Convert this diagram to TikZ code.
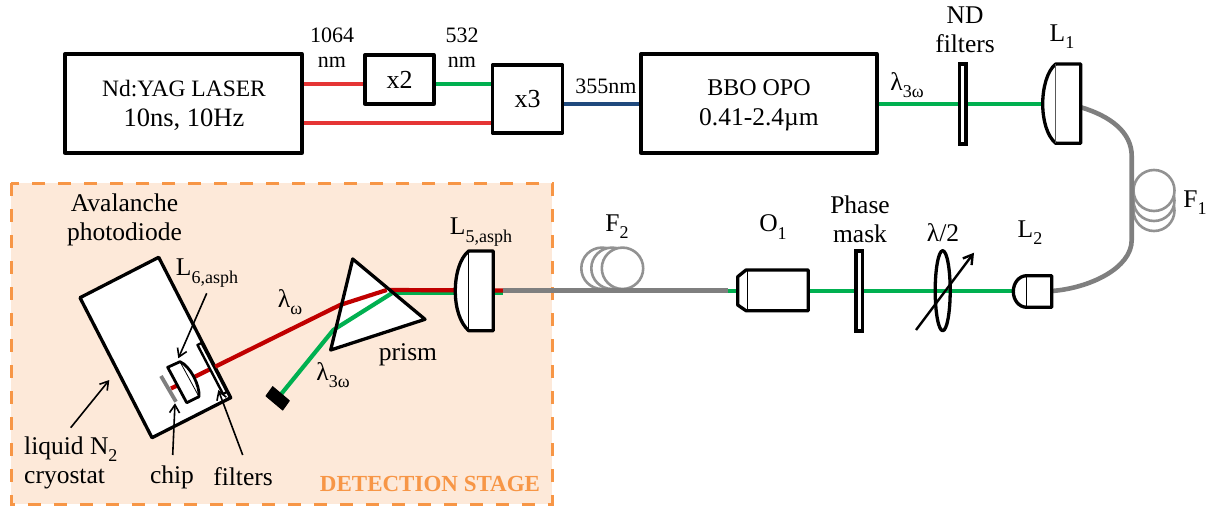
\documentclass[tikz,border=0pt]{standalone}
\usepackage{fontspec}
\setmainfont{Liberation Serif}
\usetikzlibrary{arrows.meta,calc}
\definecolor{cred}{HTML}{E53535}
\definecolor{dred}{HTML}{C00000}
\definecolor{cgreen}{HTML}{00B050}
\definecolor{cblue}{HTML}{1F497D}
\definecolor{cgrey}{HTML}{7F7F7F}
\definecolor{corange}{HTML}{F79646}
\definecolor{cpeach}{HTML}{FDE9D9}
\newcommand{\lsb}[1]{\raisebox{-0.28em}{\fontsize{18}{18}\selectfont #1}}
\newcommand{\fs}[1]{\fontsize{#1}{30}\selectfont}
\tikzset{
 box/.style={draw=black,line width=3.3pt,fill=white,line join=round,inner sep=0pt,align=center,font=\fontsize{26}{30}\selectfont},
 optic/.style={draw=black,line width=3.3pt,fill=white,line join=round},
 beam/.style={line width=4.2pt},
 fibre/.style={draw=cgrey,line width=4.4pt},
 loopc/.style={draw=cgrey!85,line width=2.6pt,fill=white},
 lab/.style={inner sep=0pt,align=center,font=\fontsize{25.5}{29}\selectfont},
 small/.style={inner sep=0pt,align=center,font=\fontsize{22}{25}\selectfont},
 thin line/.style={draw=black,line width=1pt},
 pointer/.style={draw=black,line width=1.6pt,-{Straight Barb[length=8pt,width=10pt]}},
}
\begin{document}
\begin{tikzpicture}[x=1pt,y=-1pt]
\useasboundingbox (0,0) rectangle (1210,506);
% detection stage
\draw[draw=corange,line width=3pt,fill=cpeach,dash pattern=on 13pt off 13pt] (11,183) rectangle (552,504);
% top row boxes
\node[box,minimum width=237pt,minimum height=99pt] (laser) at (183.5,103.5) {};
\node[lab,font=\fontsize{24}{30}\selectfont] (lasertxt) at (184,105) {{\fs{23.5}Nd:YAG LASER}\\{\fs{26.5}10ns, 10Hz}};
\node[box,minimum width=69pt,minimum height=49pt] (xtwo) at (399.5,79.5) {x2};
\node[box,minimum width=70pt,minimum height=68pt] (xthree) at (527.5,99) {x3};
\node[box,minimum width=236pt,minimum height=99pt] (bbo) at (759,103.5) {};
\node[lab,font=\fontsize{24}{30}\selectfont] (bbotxt) at (759,105) {{\fs{24}BBO OPO}\\{\fs{25.5}0.41-2.4µm}};
\draw[beam,cred] (laser.east |- 0,84.3) -- (xtwo.west |- 0,84.3);
\draw[beam,cgreen] (xtwo.east |- 0,84.3) -- (xthree.west |- 0,84.3);
\draw[beam,cred] (laser.east |- 0,123.3) -- (xthree.west |- 0,123.3);
\draw[beam,cblue] (xthree.east |- 0,104) -- (bbo.west |- 0,104);
\node[small] (l1064) at (332,47.5) {1064\\nm};
\node[small] (l532) at (462,47.5) {532\\nm};
\node[small] (l355) at (606,86) {355nm};
% top row optics
\coordinate (lonefront) at (1043,104);
\draw[beam,cgreen] (bbo.east |- lonefront) -- (lonefront);
\node[lab] (l3w) at (907,85) {λ\lsb{3ω}};
\node[draw=black,line width=3.3pt,fill=white,minimum width=6.5pt,minimum height=80pt,inner sep=0pt] (nd) at (962.7,104) {};
\node[lab] (ndtxt) at (965,30) {ND\\filters};
\node[lab] (lone) at (1062,37) {L\lsb{1}};
% fibre F1 path
\foreach \yy in {210.5,200.5,190.5}{\draw[loopc] (1154,\yy) circle (20.5);}
\coordinate (loneback) at (1081,107.3);
\coordinate (ltwoback) at (1052,291);
\draw[draw=cgrey,line width=4.6pt] (loneback) .. controls (1110,116) and (1131.7,132) .. (1131.7,156) -- (1131.7,240) .. controls (1131.7,268) and (1090,288) .. (ltwoback);
\path[optic] (1055.7,64) -- (1080.7,64) -- (1080.7,143.3) -- (1055.7,143.3) .. controls (1047,136) and (1042.7,120) .. (1042.7,104) .. controls (1042.7,88) and (1047,71) .. (1055.7,64) -- cycle;
\draw[draw=cgrey!70!black,line width=1.2pt] (1055.7,64) -- (1055.7,143.3);
\node[lab] (ftxt1) at (1195,203) {F\lsb{1}};
% lower row
\coordinate (fibA) at (503,290.5);
\coordinate (fibB) at (728,290.5);
\coordinate (ltwoF) at (1013.5,291);
\draw[beam,cgreen] (fibB |- ltwoF) -- (ltwoF);
\node[draw=black,line width=3.3pt,fill=white,minimum width=6.5pt,minimum height=80pt,inner sep=0pt] (pm) at (859.3,291) {};
\draw[optic,fill=none] (942.7,290.7) ellipse (7.5 and 40);
\coordinate (wpA) at (916,330);
\coordinate (wpB) at (974,252.7);
\draw[draw=black,line width=2.4pt,-{Straight Barb[length=9pt,width=11pt]}] (wpA) -- (wpB);
\path[optic] (746,270) -- (808.3,270) -- (808.3,310.7) -- (746,310.7) -- (737.7,305) -- (737.7,276.7) -- cycle;
\draw[thin line] (747.5,270) -- (747.5,310.7);
\path[optic] (1026.7,275.7) -- (1051.7,275.7) -- (1051.7,307.3) -- (1026.7,307.3) .. controls (1019,307.3) and (1013.3,300) .. (1013.3,291.5) .. controls (1013.3,283) and (1019,275.7) .. (1026.7,275.7) -- cycle;
\draw[thin line] (1026.7,275.7) -- (1026.7,307.3);
\node[lab] (oone) at (773,227) {O\lsb{1}};
\node[lab] (pmtxt) at (860,219) {Phase\\mask};
\node[lab] (wptxt) at (943,233) {λ/2};
\node[lab] (ltwo) at (1030,233) {L\lsb{2}};
% F2
\draw[line width=3pt,cgreen] (391.7,293.3) -- (fibA |- 0,293.3);
\draw[beam,dred] (386.7,290) -- (fibA);
\foreach \xx in {602,612,622.5}{\draw[loopc] (\xx,268.3) circle (20.7);}
\path[optic] (468.7,251) -- (493.3,251) -- (493.3,330.7) -- (468.7,330.7) .. controls (460,323) and (455.3,308) .. (455.3,291) .. controls (455.3,274) and (460,258) .. (468.7,251) -- cycle;
\draw[thin line] (468.7,251) -- (468.7,330.7);
\draw[fibre] (fibA) -- (fibB);
\node[lab] (ftwo) at (617,227) {F\lsb{2}};
\node[lab] (lfive) at (481,232) {L\lsb{5,asph}};
% cryostat
\path[optic] (80,297.7) -- (158.7,257.3) -- (230.7,397.7) -- (152,437.7) -- cycle;
% prism
\path[fill=white] (352.7,259) -- (425,319.3) -- (330.7,350) -- cycle;
% beams
\coordinate (chipc) at (171,388.5);
\coordinate (dump) at (277.7,398.3);
\draw[beam,dred] (386.7,290) -- (340,305) -- (chipc);
\draw[beam,cgreen] (391.7,293.3) -- (333.3,330) -- (dump);
\path[optic,fill=none] (352.7,259) -- (425,319.3) -- (330.7,350) -- cycle;
\path[fill=black,draw=black,line width=1pt,line join=round] (272.7,386.7) -- (289.3,400.7) -- (282.7,410) -- (266,396) -- cycle;
% filter, lens, chip
\path[draw=black,line width=2.4pt,fill=white,line join=round] (197.5,345) -- (201.5,343) -- (227,392) -- (223,394) -- cycle;
\draw[draw=cgrey,line width=3.8pt] (161,376) -- (176,401.7);
\path[draw=black,line width=2.8pt,fill=white,line join=round] (167.7,367.3) -- (180,361.7) .. controls (190,366) and (200,385) .. (199,396.7) -- (186.7,402.7) -- cycle;
\draw[draw=black,line width=0.8pt] (180,361.7) -- (199,396.7);
% labels
\node[lab] (apd) at (124.5,220) {Avalanche\\photodiode};
\node[lab] (lsix) at (207,273) {L\lsb{6,asph}};
\node[lab] (lw) at (290,302) {λ\lsb{ω}};
\node[lab,align=left,anchor=west] (cryo) at (24,462.5) {liquid N\lsb{2}\\cryostat};
\node[lab] (chiptxt) at (172,477) {chip};
\node[lab] (filttxt) at (243,477) {filters};
\node[lab] (prismtxt) at (408,355) {prism};
\node[lab] (l3wb) at (333,375) {λ\lsb{3ω}};
\node[inner sep=0pt,text=corange,font=\fontsize{23}{28}\selectfont\bfseries] (det) at (430,484) {DETECTION STAGE};
% pointers
\coordinate (pl) at (109.3,380);
\coordinate (pc) at (175,403.3);
\coordinate (pf) at (218.3,390);
\coordinate (ps) at (178.3,358.3);
\coordinate (pcs) at (172.7,455);
\coordinate (pfs) at (242.7,455);
\draw[pointer] (70.7,427.7) -- (pl);
\draw[pointer] (pcs) -- (pc);
\draw[pointer] (pfs) -- (pf);
\draw[pointer] (206.7,293.3) -- (ps);
\end{tikzpicture}
\end{document}
